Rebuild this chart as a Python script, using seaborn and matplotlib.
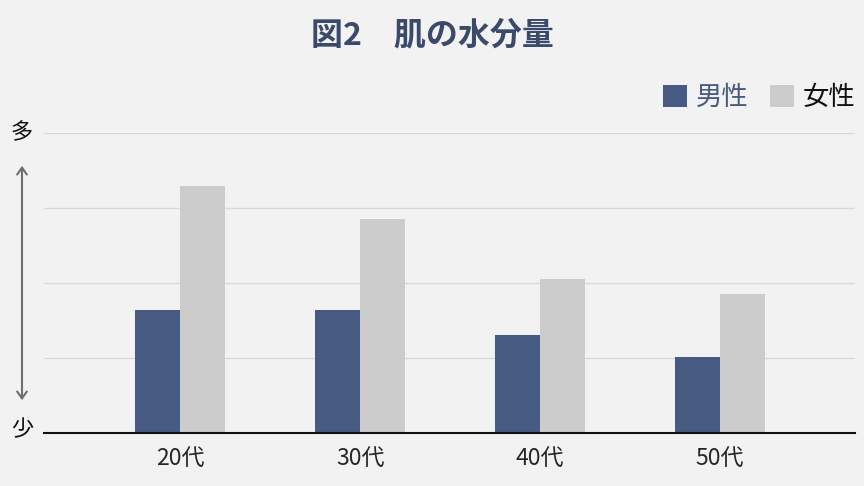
import pandas as pd
import matplotlib.pyplot as plt
import seaborn as sns
from matplotlib.patches import FancyArrowPatch

# データ（目盛りなしの相対値、図から読み取り）
ages = ['20代', '30代', '40代', '50代']
male = [1.64, 1.64, 1.31, 1.01]
female = [3.29, 2.85, 2.06, 1.86]
series = ['男性', '女性']

df = pd.DataFrame({
    'age': ages * 2,
    'sex': [series[0]] * len(ages) + [series[1]] * len(ages),
    'value': male + female,
})

sns.set_theme(style='white')
plt.rcParams['font.family'] = ['Noto Sans CJK JP', 'DejaVu Sans']

bg = '#f2f2f2'
fig = plt.figure(figsize=(8.64, 4.86), dpi=100, facecolor=bg)
ax = fig.add_axes([0.051, 0.109, 0.9386, 0.6173], facecolor=bg)

sns.barplot(data=df, x='age', y='value', hue='sex', ax=ax,
            palette={'男性': '#475a82', '女性': '#cccccc'},
            width=0.5, saturation=1, legend=True, linewidth=0, edgecolor='none')

ax.set_xlim(-0.756, 3.75)
ax.set_ylim(0, 4)
ax.set_yticks([1, 2, 3, 4])
ax.set_yticklabels([])
ax.tick_params(axis='y', length=0)
ax.tick_params(axis='x', length=0, labelsize=16.5, pad=10)
ax.yaxis.grid(True, color='#d9d9d9', linewidth=1)
ax.set_axisbelow(True)
ax.set_xlabel('')
ax.set_ylabel('')
for s in ['left', 'right', 'top']:
    ax.spines[s].set_visible(False)
ax.spines['bottom'].set_color('#111111')
ax.spines['bottom'].set_linewidth(1.5)

# 凡例
handles, labels = ax.get_legend_handles_labels()
ax.get_legend().remove()
for h in handles:
    h.set_linewidth(0)
leg = fig.legend(handles, labels, loc='center right', bbox_to_anchor=(1.018, 0.80),
                 ncol=2, frameon=False, fontsize=19, handlelength=0.9,
                 handleheight=0.9, handletextpad=0.35, columnspacing=0.8)
leg.get_texts()[0].set_color('#475a82')
leg.get_texts()[1].set_color('#111111')

# タイトル
fig.text(0.5, 0.928, '図2　肌の水分量', ha='center', va='center',
         fontsize=23, fontweight='bold', color='#3b4a6b')

# 縦軸の「多」「少」と矢印
fig.text(22 / 864, 1 - 133 / 486, '多', ha='center', va='center', fontsize=16, color='#111111')
fig.text(22 / 864, 1 - 430 / 486, '少', ha='center', va='center', fontsize=16, color='#111111')
arrow = FancyArrowPatch((22 / 864, 1 - 403 / 486), (22 / 864, 1 - 163 / 486),
                        transform=fig.transFigure, arrowstyle='<->,head_length=5,head_width=3.5',
                        color='#6f6f6f', linewidth=1.5)
fig.patches.append(arrow)

fig.savefig('out.png', dpi=100, facecolor=bg)
